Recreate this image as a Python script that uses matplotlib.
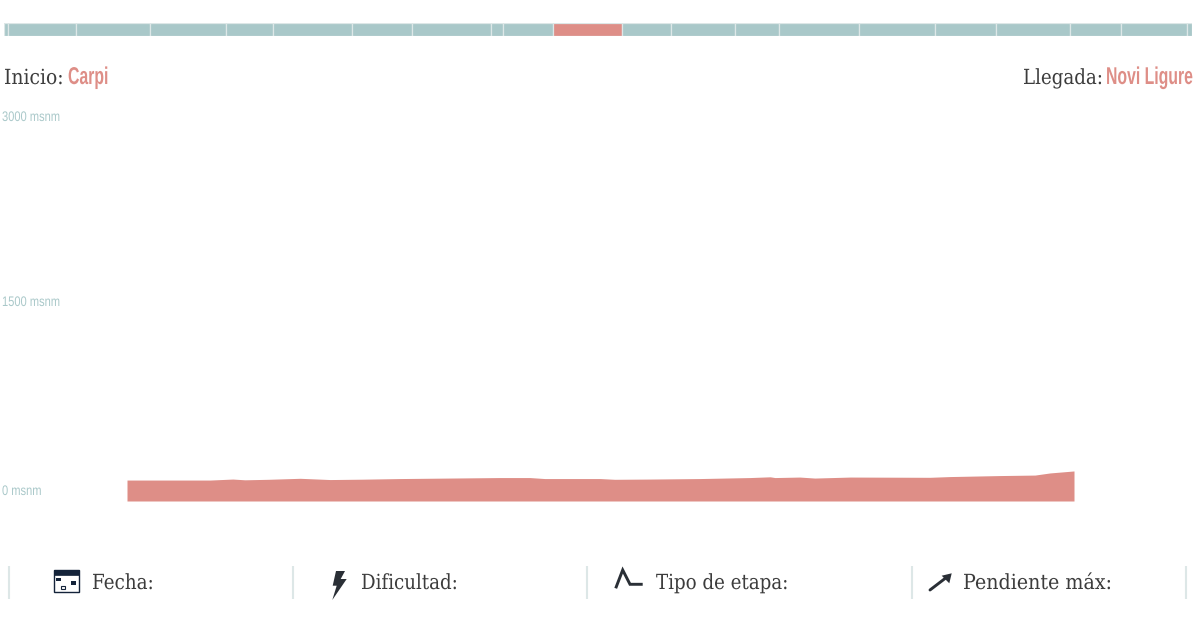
import numpy as np
import matplotlib
matplotlib.use('Agg')
import matplotlib.pyplot as plt
from matplotlib.patches import Rectangle, Polygon
from matplotlib.patheffects import AbstractPathEffect
from matplotlib.transforms import Affine2D, Bbox

# stage lengths read from the strip at the top, km
stage_km = [11, 205, 223, 229, 141, 238, 182, 238, 36, 150, 209,
            147, 192, 133, 241, 229, 184, 223, 154, 199, 15]
current_stage = 10

# profile of the stage
dist_km = [0, 19.4, 22, 24.7, 27.5, 33, 40.4, 47.4, 55, 63.7, 75.3, 87, 94, 97.5, 110.4, 113.8, 122.1,
           133.7, 145.4, 150.1, 151.2, 157, 160.5, 168.8, 187.4, 192.1, 203.7, 211.9, 215.4, 221]
elev_m = [168, 168, 172, 176, 170, 174, 182, 172, 175, 180, 184, 188, 188, 180, 180, 174, 176,
          180, 188, 194, 188, 192, 184, 192, 190, 196, 204, 208, 225, 241]

y_ticks = [3000, 1500, 0]
y_labels = ['3000 msnm', '1500 msnm', '0 msnm']
y_label_shift = [10, 12, 10]

start_label = 'Inicio:'
start_name = 'Carpi'
end_label = 'Llegada:'
end_name = 'Novi Ligure'
footer_labels = ['Fecha:', 'Dificultad:', 'Tipo de etapa:', 'Pendiente máx:']
footer_x = [92, 361, 656, 963]
footer_sx = [0.88, 0.875, 0.875, 0.915]
divider_x = [9, 293, 587, 912, 1186]

TEAL = '#a9c8c9'
RED = '#de8e87'
PALE = '#dde7e7'
TEXT = '#3c3c3c'
ICON = '#2a2f36'
NAVY = '#14233a'
SERIF = ['DejaVu Serif']
NARROW = ['Liberation Sans', 'DejaVu Sans']

class Squeeze(AbstractPathEffect):
	# the webfont is condensed, no such family here
	def __init__(self, sx):
		super().__init__()
		self.sx = sx
	def draw_path(self, renderer, gc, tpath, affine, rgbFace=None):
		renderer.draw_path(gc, tpath, Affine2D().scale(self.sx, 1)+affine, rgbFace)

def squeeze(t, sx):
	# left aligned text only; report the narrower box too
	t.set_path_effects([Squeeze(sx)])
	full_extent = t.get_window_extent
	def extent(*args, **kwargs):
		b = full_extent(*args, **kwargs)
		return Bbox.from_extents(b.x0, b.y0, b.x0+b.width*sx, b.y1)
	t.get_window_extent = extent
	return t

W, H = 1200, 637
fig = plt.figure(figsize=(W/100, H/100), dpi=100, facecolor='white')

def px_axes(x0, y0, x1, y1):
	return fig.add_axes([x0/W, 1-y1/H, (x1-x0)/W, (y1-y0)/H])

# overlay in pixel coordinates for texts, dividers, icons
bg = px_axes(0, 0, W, H)
bg.set_xlim(0, W)
bg.set_ylim(H, 0)
bg.axis('off')

# stage strip
strip = px_axes(4, 22.5, 1192, 35.5)
strip.set_xlim(0, sum(stage_km))
strip.set_ylim(0, 1)
strip.axis('off')
colors = [RED if i == current_stage else TEAL for i in range(len(stage_km))]
strip.barh(0.5, stage_km, left=np.cumsum([0]+stage_km[:-1]), height=1.0,
	color=colors, edgecolor=PALE, linewidth=0.9)

# profile
ax = px_axes(127, 127, 1074, 501)
ax.set_xlim(0, 221)
ax.set_ylim(0, 3000)
ax.axis('off')
ax.fill_between(dist_km, 0, elev_m, color=RED, linewidth=0)
for v, lab, dy in zip(y_ticks, y_labels, y_label_shift):
	squeeze(ax.annotate(lab, xy=(0, v), xycoords=ax.get_yaxis_transform(), xytext=(-125, dy),
		textcoords='offset pixels', color=TEAL, fontsize=10, family=NARROW,
		ha='left', va='center', annotation_clip=False), 0.8)

# start / finish
squeeze(bg.text(4, 84, start_label, family=SERIF, fontsize=15, color=TEXT, va='baseline'), 0.9)
squeeze(bg.text(68, 84, start_name, family=NARROW, fontsize=17.5, weight='bold', color=RED, va='baseline'), 0.65)
squeeze(bg.text(1023, 84, end_label, family=SERIF, fontsize=15, color=TEXT, va='baseline'), 0.875)
squeeze(bg.text(1106, 84, end_name, family=NARROW, fontsize=17.5, weight='bold', color=RED, va='baseline'), 0.65)

# footer
for x in divider_x:
	bg.plot([x, x], [566, 599], color=PALE, lw=1.5, solid_capstyle='butt')
for x, lab, sx in zip(footer_x, footer_labels, footer_sx):
	squeeze(bg.text(x, 589, lab, family=SERIF, fontsize=15, color=TEXT, va='baseline'), sx)

# calendar icon
bg.add_patch(Rectangle((53.5, 569.5), 25, 22.5, fc='white', ec=NAVY, lw=1))
bg.add_patch(Rectangle((53.5, 569.5), 25, 5.5, fc=NAVY, ec=NAVY, lw=0.5))
bg.add_patch(Rectangle((56, 577.5), 5, 3.5, fc=NAVY, ec='none'))
bg.add_patch(Rectangle((71, 581), 5, 3.5, fc=NAVY, ec='none'))
bg.add_patch(Rectangle((60.5, 585.5), 4.5, 3.5, fc='white', ec=NAVY, lw=0.8))
# bolt
bg.add_patch(Polygon([(336, 571), (345, 571), (340.7, 579), (346.7, 579), (332.3, 600),
	(336.7, 585.7), (332.7, 585.7)], closed=True, fc=ICON, ec='none'))
# stage type
bg.plot([615.7, 622.7, 630, 642.7], [588.3, 570, 584.3, 584.3], color=ICON, lw=2.1,
	solid_joinstyle='miter', solid_capstyle='butt')
# slope arrow
bg.plot([930, 947], [590, 577], color=ICON, lw=2.1, solid_capstyle='round')
bg.add_patch(Polygon([(941.7, 575.7), (951.7, 573.3), (949.3, 583.3)], closed=True, fc=ICON, ec='none'))

fig.savefig('out.png', dpi=100, facecolor='white')
